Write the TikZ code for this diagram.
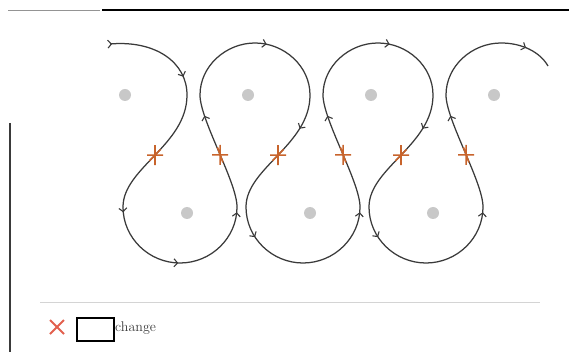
\documentclass[tikz,border=0pt]{standalone}
\usetikzlibrary{arrows.meta,decorations.markings}
\definecolor{wiregray}{HTML}{3A3A3A}
\definecolor{dotgray}{HTML}{C8C8C8}
\definecolor{chgorange}{HTML}{C8642C}
\definecolor{crossred}{HTML}{E2604E}
\definecolor{rulegray}{HTML}{D4D4D4}
\tikzset{
  wire/.style={draw=wiregray, line width=1.25pt},
  arrowat/.style={postaction={decorate, decoration={markings,
      mark=at position #1 with {\arrow{Straight Barb[length=3.5pt,width=8pt,line width=1.1pt]}}}}},
  chg/.style={draw=chgorange, line width=1.6pt},
}

\begin{document}
\begin{tikzpicture}[x=1pt,y=-1pt]
\useasboundingbox (0,0) rectangle (569,352);

% rules round the figure
\draw[rulegray!70!black, line width=0.6pt] (8,10) -- (100,10);
\draw[black, line width=1.4pt] (102,10) -- (569,10);
\draw[wiregray, line width=1.4pt] (10,123) -- (10,352);
\draw[rulegray, line width=1pt] (40,302) -- (540,302);

% grey dots
\foreach \x in {125,248,371,494} \fill[dotgray] (\x,95) circle (6);
\foreach \x in {187,310,433} \fill[dotgray] (\x,213) circle (6);

% first period
\draw[wire, arrowat=0.02, arrowat=0.82] (110,44) .. controls (155,40) and (187,62) .. (187,95);
\draw[wire] (187,95) .. controls (187,145) and (123,168) .. (123,207) coordinate[pos=0.5] (d0);
\draw[wire, arrowat=0.03, arrowat=0.49, arrowat=0.97]
  (123,207) .. controls (123,238) and (149,263) .. (180,263)
  .. controls (211,263) and (237,238) .. (237,207);
\draw[wire, arrowat=0.82] (237,207) .. controls (237,182) and (200,120) .. (200,95) coordinate[pos=0.47] (u0);

% next periods
\foreach \s/\k in {0/1,123/2} {
  \begin{scope}[xshift=\s pt]
    \draw[wire, arrowat=0.57] (200,95) .. controls (200,66) and (226,43) .. (255,43)
      .. controls (284,43) and (310,66) .. (310,95);
    \draw[wire, arrowat=0.27] (310,95) .. controls (310,145) and (246,168) .. (246,207) coordinate[pos=0.5] (d\k);
    \draw[wire, arrowat=0.18, arrowat=0.97]
      (246,207) .. controls (246,238) and (272,263) .. (303,263)
      .. controls (334,263) and (360,238) .. (360,207);
    \draw[wire, arrowat=0.82] (360,207) .. controls (360,182) and (323,120) .. (323,95) coordinate[pos=0.47] (u\k);
  \end{scope}
}

% last top loop
\draw[wire, arrowat=0.79] (446,95) .. controls (446,66) and (472,43) .. (501,43)
  .. controls (522,43) and (540,52) .. (548,66);

% changes
\foreach \c in {d0,d1,d2}
  \draw[chg] (\c) +(-8,0) -- +(8,0) (\c) +(0,-10) -- +(0,10) (\c) +(-46:8) -- +(134:8);
\foreach \c in {u0,u1,u2}
  \draw[chg] (\c) +(-8,0) -- +(8,0) (\c) +(0,-10) -- +(0,10) (\c) +(70:8) -- +(250:8);

% legend
\draw[crossred, line width=2pt] (50,320) -- (64,334) (50,334) -- (64,320);
\draw[black, line width=1.2pt] (77,318) rectangle (114,341);
\node[anchor=west, inner sep=0pt, text=wiregray, font=\fontsize{14}{15}\selectfont] (chglabel) at (115,328) {change};
\end{tikzpicture}
\end{document}
